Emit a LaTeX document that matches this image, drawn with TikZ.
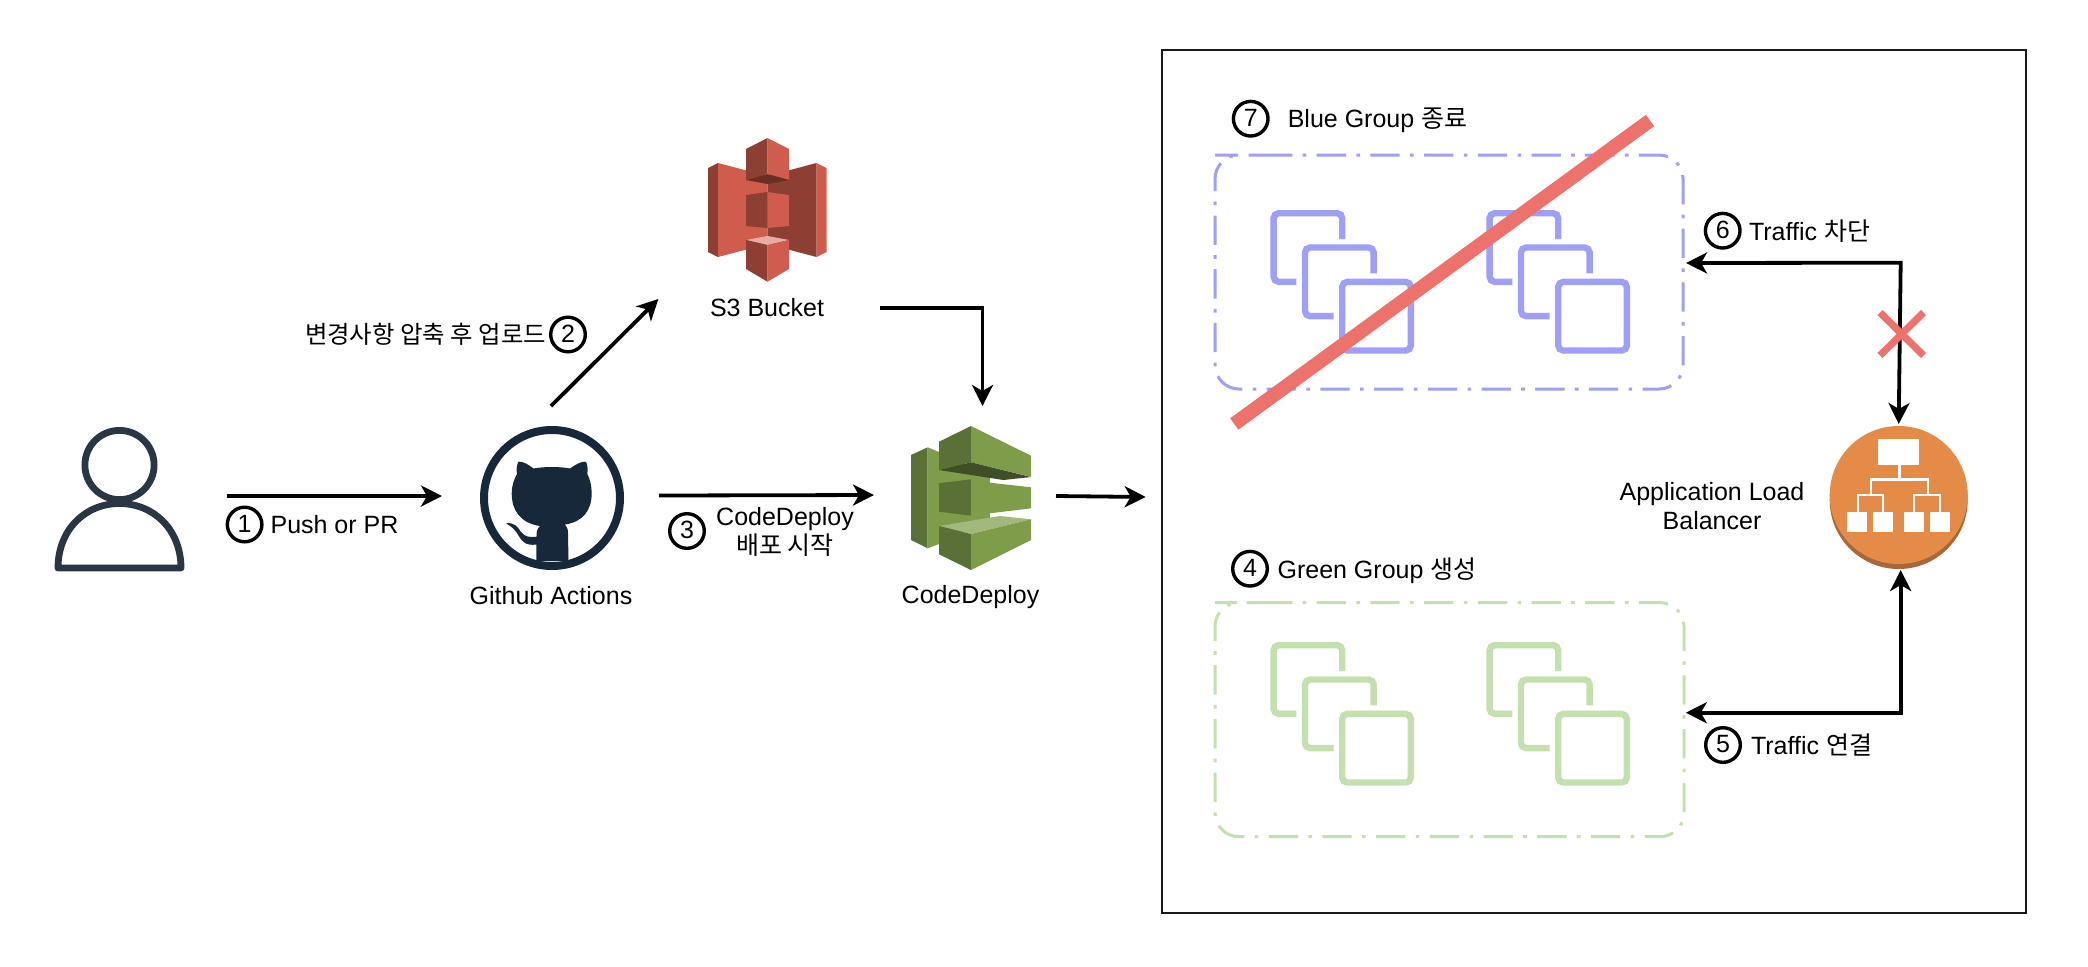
\documentclass[tikz,border=0pt]{standalone}
\usepackage{fontspec}
\setmainfont{Liberation Sans}
\newfontfamily\kr{Noto Sans CJK KR}
\usetikzlibrary{arrows.meta,calc}
\definecolor{bluegrp}{RGB}{159,159,247}
\definecolor{greengrp}{RGB}{195,224,174}
\definecolor{redx}{RGB}{238,114,108}
\definecolor{persona}{RGB}{43,54,68}
\definecolor{cat}{RGB}{22,40,57}
\definecolor{sthree}{RGB}{207,92,76}
\definecolor{sthreed}{RGB}{140,63,50}
\definecolor{sthreeu}{RGB}{107,46,36}
\definecolor{sthreet}{RGB}{230,173,165}
\definecolor{cdl}{RGB}{127,156,75}
\definecolor{cdd}{RGB}{90,112,54}
\definecolor{cdu}{RGB}{63,78,38}
\definecolor{cdt}{RGB}{162,184,124}
\definecolor{albo}{RGB}{229,139,72}
\definecolor{albd}{RGB}{167,103,58}
\tikzset{
  x=0.5pt,y=-0.5pt,
  tipx/.tip={Stealth[length=10.5pt,width=10.5pt,inset=3pt]},
  conn/.style={draw=black,line width=1.9pt,-{tipx}},
  conntwo/.style={draw=black,line width=1.9pt,{tipx}-{tipx}},
  lab/.style={font=\fontsize{12.5}{14.5}\selectfont,inner sep=0pt,align=center},
  num/.style={draw=black,circle,line width=1.7pt,minimum size=17.3pt,inner sep=0pt,font=\fontsize{12.5}{14.5}\selectfont},
  ghost/.style={inner sep=0pt,outer sep=0pt,rectangle},
  grp/.style={line width=1.5pt,dash pattern=on 14.65pt off 5.2pt on 1.8pt off 5.2pt,rounded corners=12pt},
  stk/.style={line width=3.2pt,rounded corners=2.5pt,fill=none}
}
\newcommand{\stackicon}[3]{%
  \begin{scope}[shift={(#1,#2)},draw=#3,color=#3]
    \draw[stk] (71.8,29) -- (71.8,3.2) -- (3.2,3.2) -- (3.2,71.8) -- (26,71.8);
    \draw[stk,shift={(31.4,34.3)}] (71.8,29) -- (71.8,3.2) -- (3.2,3.2) -- (3.2,71.8) -- (31.8,71.8);
    \draw[stk,shift={(68.6,68.7)}] (3.2,3.2) -- (71.8,3.2) -- (71.8,71.8) -- (3.2,71.8) -- cycle;
  \end{scope}}
\newcommand{\dg}[1]{\raisebox{0.8pt}{#1}}
\begin{document}
\begin{tikzpicture}
\useasboundingbox (0,0) rectangle (2088,966);
% invisible nodes for the icons
\node[ghost,minimum width=65.25pt,minimum height=73pt] (user) at (119.5,498.5) {};
\node[ghost,minimum width=72pt,minimum height=72pt] (gh) at (552,498) {};
\node[ghost,minimum width=59.25pt,minimum height=72pt] (s3) at (767.25,210) {};
\node[ghost,minimum width=60pt,minimum height=72pt] (cd) at (971,498) {};
\node[ghost,minimum width=69pt,minimum height=72pt] (alb) at (1898.7,498) {};
\node[ghost,minimum width=234pt,minimum height=117pt] (blue) at (1449,272) {};
\node[ghost,minimum width=234.5pt,minimum height=117pt] (green) at (1449.5,719.7) {};
% frame
\node[draw=black!90,line width=1.25pt,minimum width=432pt,minimum height=431.5pt,inner sep=0pt,outer sep=0pt] (frame) at (1594,481.5) {};
% person
\draw[persona,line width=3.4pt] (119.5,465) circle[radius=34.6];
\draw[persona,line width=3.4pt,line join=round] (58,568) .. controls (58,530) and (85,503.5) .. (119.5,503.5) .. controls (154,503.5) and (181,530) .. (181,568) -- cycle;
% github
\draw[cat,line width=4pt] (gh.center) circle[radius=68];
\fill[cat] (518.3,461.7) .. controls (523,461) and (529,465) .. (533.5,468.5) .. controls (544,466.5) and (560,466.5) .. (570,468.5) .. controls (575,465) and (581,461) .. (586,461.7) .. controls (587.5,465) and (588,469) .. (587.3,474) .. controls (590,479) and (591.7,486) .. (591.7,493.3) .. controls (591.7,510) and (583,522) .. (565,524.5) .. controls (567,527) and (568,529) .. (568,533) -- (568.5,561) -- (536.5,561) -- (536.3,544.5) .. controls (526,546) and (522,542) .. (517,533) .. controls (513,527) and (509,525.5) .. (506,523.3) .. controls (514,522) and (518,527) .. (521,532) .. controls (525,537) and (530,537.5) .. (536.5,536.7) .. controls (536.5,531) and (537,529) .. (540,526) .. controls (520,523) and (511.7,510) .. (511.7,493.3) .. controls (511.7,486) and (514,479) .. (517,474) .. controls (516,469) and (517,465) .. (518.3,461.7) -- cycle;
% S3
\fill[sthreed] (708,168) -- (718,163) -- (718,257) -- (708,252) -- cycle;
\fill[sthree] (718,163) -- (767.5,176) -- (767.5,244) -- (718,257) -- cycle;
\fill[sthreed] (767.5,176) -- (816.5,163) -- (816.5,257) -- (767.5,244) -- cycle;
\fill[sthree] (816.5,163) -- (826.5,168) -- (826.5,252) -- (816.5,257) -- cycle;
\fill[sthreed] (746,149) -- (767.5,138) -- (767.5,174) -- (746,180) -- cycle;
\fill[sthree] (767.5,138) -- (789,149) -- (789,180) -- (767.5,174) -- cycle;
\fill[sthreeu] (746,180) -- (767.5,174) -- (789,180) -- (767.5,184) -- cycle;
\fill[sthreed] (746,195) -- (767.5,192) -- (767.5,228) -- (746,226) -- cycle;
\fill[sthree] (767.5,192) -- (789,195) -- (789,226) -- (767.5,228) -- cycle;
\fill[sthreet] (746,240) -- (767.5,236) -- (789,240) -- (767.5,245) -- cycle;
\fill[sthreed] (746,240) -- (767.5,245) -- (767.5,281.7) -- (746,269) -- cycle;
\fill[sthree] (767.5,245) -- (789,240) -- (789,269) -- (767.5,281.7) -- cycle;
% CodeDeploy
\fill[cdd] (911,455) -- (927.7,447.3) -- (927.7,548.3) -- (911,540) -- cycle;
\fill[cdl] (927.7,447.3) -- (939,452) -- (990,478) -- (990,518) -- (939,544) -- (927.7,548.3) -- cycle;
\fill[white] (990,478) -- (1031,477) -- (1031,487) -- (990,482.7) -- cycle;
\fill[white] (990,513.3) -- (1031,508.3) -- (1031,519.3) -- (990,518) -- cycle;
\fill[cdd] (939,441.7) -- (971,426) -- (971,462.3) -- (939,470) -- cycle;
\fill[cdl] (971,426) -- (1031,455.7) -- (1031,476.7) -- (971,462.3) -- cycle;
\fill[cdu] (939,470) -- (971,462.3) -- (1031,477) -- (1003.3,480) -- cycle;
\fill[cdd] (939,483.3) -- (971,479.3) -- (971,515.7) -- (939,511.7) -- cycle;
\fill[cdl] (971,479.3) -- (990,482.7) -- (1031,487.3) -- (1031,508.3) -- (990,513.3) -- (971,515.7) -- cycle;
\fill[cdt] (939,526) -- (1000,516) -- (1031,519.3) -- (971,534) -- cycle;
\fill[cdd] (939,526) -- (971,534) -- (971,570) -- (939,554.3) -- cycle;
\fill[cdl] (971,534) -- (1031,519.3) -- (1031,540) -- (971,570) -- cycle;
% groups
\draw[grp,bluegrp] (1239,155) -- (1683,155) -- (1683,389) -- (1215,389) -- (1215,155) -- cycle;
\stackicon{1270.4}{210}{bluegrp}
\stackicon{1486.4}{210}{bluegrp}
\draw[grp,greengrp] (1239,602.7) -- (1684,602.7) -- (1684,836.7) -- (1215,836.7) -- (1215,602.7) -- cycle;
\stackicon{1270.4}{642}{greengrp}
\stackicon{1486.4}{642}{greengrp}
% ALB
\fill[albd] (1898.7,500) circle[radius=69];
\fill[albo] (1898.7,495) circle[radius=69];
\fill[white] (1878.3,439) rectangle (1919,464.7);
\fill[white] (1846.7,512) rectangle (1867.3,532.3);
\fill[white] (1872.7,512) rectangle (1893,532.3);
\fill[white] (1904,512) rectangle (1924.3,532.3);
\fill[white] (1929.7,512) rectangle (1950,532.3);
\draw[white,line width=1.3pt] (1899.5,464.7) -- (1899.5,479.3);
\draw[white,line width=1.3pt] (1871,495) -- (1871,479.3) -- (1928,479.3) -- (1928,495);
\draw[white,line width=1.3pt] (1858,512) -- (1858,495) -- (1883,495) -- (1883,512);
\draw[white,line width=1.3pt] (1914,512) -- (1914,495) -- (1940,495) -- (1940,512);
% connectors
\draw[conn] ($(user.east)+(42.25,-2.5)$) -- ($(gh.west)+(-38,-2)$);
\draw[conn] ($(gh.north)+(-1,-20)$) -- ($(s3.west)+(-49.6,89)$);
\draw[conn] ($(s3.south east)+(53.5,25.6)$) -| ($(cd.north)+(11.5,-20)$);
\draw[conn] ($(gh.east)+(35,-2.5)$) -- ($(cd.west)+(-37,-3)$);
\draw[conn] ($(cd.east)+(25,-2)$) -- ($(frame.west)+(-16.3,15.5)$);
\draw[conntwo] ($(blue.east)+(3,-9)$) -- ($(alb.north)+(2,-163.3)$) -- ($(alb.north)+(0,-2)$);
\draw[conntwo] ($(green.east)+(1.8,-7)$) -| ($(alb.south)+(2,0)$);
% red marks
\draw[redx,line width=7pt] (1234.3,424) -- (1650,120.5);
\draw[redx,line width=3.6pt] (1880,312.5) -- (1923.5,355.5);
\draw[redx,line width=3.6pt] (1923.5,312.5) -- (1880,355.5);
% labels
\node[lab] (tuser1) at (334.5,525) {Push or PR};
\node[lab] (tgh) at (551,596) {Github Actions};
\node[lab] (ts3) at (767,307.5) {S3 Bucket};
\node[lab] (tcd) at (970.5,597) {CodeDeploy};
\node[lab,font=\fontsize{12.2}{14.5}\selectfont] (t2) at (425.5,334) {\kr 변경사항 압축 후 업로드};
\node[lab] (t3) at (785,532) {CodeDeploy\\{\kr 배포 시작}};
\node[lab] (t7) at (1377.5,120.5) {Blue Group {\kr 종료}};
\node[lab] (t4) at (1377,570.5) {Green Group {\kr 생성}};
\node[lab] (t6) at (1809.5,231) {Traffic {\kr 차단}};
\node[lab] (t5) at (1811.5,745) {Traffic {\kr 연결}};
\node[lab] (talb) at (1712,506) {Application Load\\Balancer};
\node[num] (n1) at (244.6,524.5) {\dg{1}};
\node[num] (n2) at (568,334.5) {\dg{2}};
\node[num] (n3) at (687,531) {\dg{3}};
\node[num] (n4) at (1250,568.7) {\dg{4}};
\node[num] (n5) at (1723,745) {\dg{5}};
\node[num] (n6) at (1722.7,230.7) {\dg{6}};
\node[num] (n7) at (1250.7,118.7) {\dg{7}};
\end{tikzpicture}
\end{document}
